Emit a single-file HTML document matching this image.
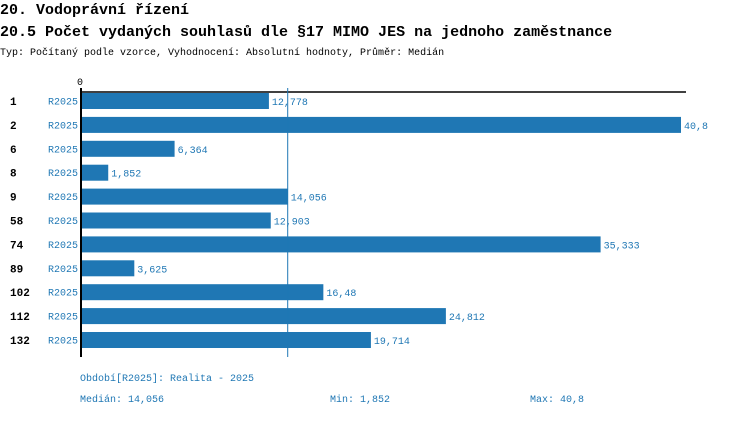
<!DOCTYPE html>
<html><head><meta charset="utf-8"><style>
body{margin:0;background:#fff;width:750px;height:416px;overflow:hidden;font-family:"Liberation Mono",monospace}
</style></head><body>
<svg width="750" height="416" xmlns="http://www.w3.org/2000/svg" font-family="Liberation Mono, monospace">
<text x="0" y="14" font-size="15" font-weight="bold" fill="#000">20. Vodoprávní řízení</text>
<text x="0" y="36" font-size="15" font-weight="bold" fill="#000">20.5 Počet vydaných souhlasů dle §17 MIMO JES na jednoho zaměstnance</text>
<text x="0" y="55" font-size="10" fill="#000">Typ: Počítaný podle vzorce, Vyhodnocení: Absolutní hodnoty, Průměr: Medián</text>
<text x="77" y="85" font-size="10" fill="#000">0</text>
<g id="bars"></g>
<line x1="80" y1="92" x2="686" y2="92" stroke="#000" stroke-width="1.5"/>
<line x1="81" y1="88" x2="81" y2="357" stroke="#000" stroke-width="2"/>
<line id="med" x1="287" y1="88" x2="287" y2="357" stroke="#1f77b4" stroke-width="1"/>
<text x="80" y="381" font-size="10" fill="#1f77b4">Období[R2025]: Realita - 2025</text>
<text x="80" y="402" font-size="10" fill="#1f77b4">Medián: 14,056</text>
<text x="330" y="402" font-size="10" fill="#1f77b4">Min: 1,852</text>
<text x="530" y="402" font-size="10" fill="#1f77b4">Max: 40,8</text>
</svg>
<script>
const categories=["1","2","6","8","9","58","74","89","102","112","132"];
const periods=["R2025","R2025","R2025","R2025","R2025","R2025","R2025","R2025","R2025","R2025","R2025"];
const values=[12.778,40.8,6.364,1.852,14.056,12.903,35.333,3.625,16.48,24.812,19.714];
const valueLabels=["12,778","40,8","6,364","1,852","14,056","12,903","35,333","3,625","16,48","24,812","19,714"];
const medianValue=14.056;
const NS="http://www.w3.org/2000/svg";
const x0=81,xMax=40.8,wMax=600;
function xs(v){return x0+v/xMax*wMax;}
function ys(i){return 93+i*23.9;}
const g=document.getElementById('bars');
function mk(tag,attrs,txt){const e=document.createElementNS(NS,tag);for(const k in attrs)e.setAttribute(k,attrs[k]);if(txt!==undefined)e.textContent=txt;g.appendChild(e);return e;}
categories.forEach((c,i)=>{
 const y=ys(i);
 const t=mk('text',{x:10,y:y+12,'font-size':11,'font-weight':'bold',fill:'#000'},c);
 
 
 const p=mk('text',{x:78,y:y+11.5,'font-size':10,fill:'#1f77b4','text-anchor':'end'},periods[i]);
 
 
 const r=mk('rect',{x:x0,y:y,width:xs(values[i])-x0,height:16,fill:'#1f77b4'});
 
 
 const v=mk('text',{x:xs(values[i])+3,y:y+12,'font-size':10,fill:'#1f77b4'},valueLabels[i]);
 
 
});
const m=document.getElementById('med');m.setAttribute('x1',xs(medianValue));m.setAttribute('x2',xs(medianValue));
</script>
</body></html>
